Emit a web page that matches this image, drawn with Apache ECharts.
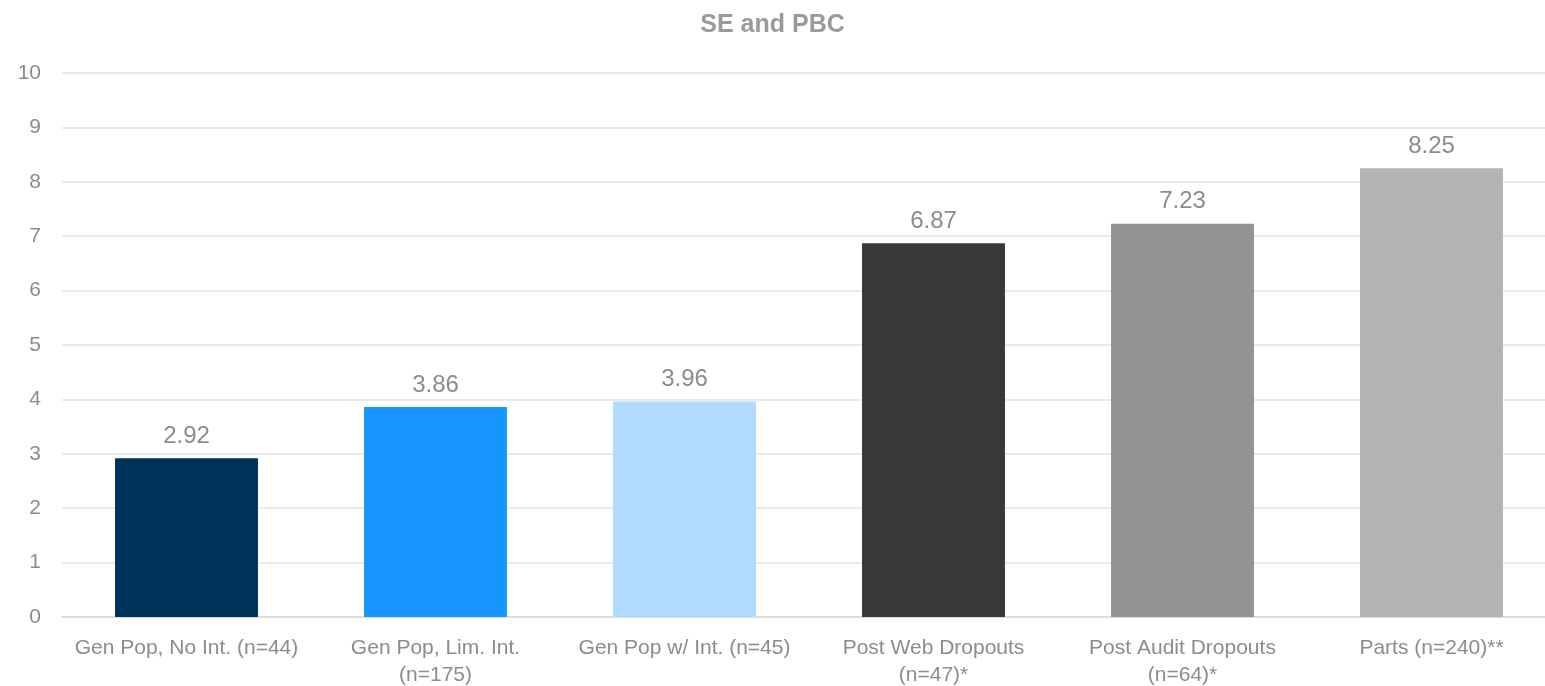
<!DOCTYPE html>
<html>
<head>
<meta charset="utf-8">
<script src="https://cdn.jsdelivr.net/npm/echarts@6/dist/echarts.min.js"></script>
<style>
  html, body { margin: 0; padding: 0; background: #fff; overflow: hidden; }
  #chart { width: 1545px; height: 686px; }
</style>
</head>
<body>
<div id="chart"></div>
<script>
// Group labels along the x axis
const categories = [
  'Gen Pop, No Int. (n=44)',
  'Gen Pop, Lim. Int.\n(n=175)',
  'Gen Pop w/ Int. (n=45)',
  'Post Web Dropouts\n(n=47)*',
  'Post Audit Dropouts\n(n=64)*',
  'Parts (n=240)**'
];
// Mean score per group
const values = [2.92, 3.86, 3.96, 6.87, 7.23, 8.25];
// Fill colour per group
const barColors = ['#003359', '#1896FF', '#B0DBFF', '#383838', '#939393', '#B3B3B3'];

const textGray = '#8c8c8c';
const fontFamily = '"Liberation Sans", "Noto Sans", sans-serif';

const chart = echarts.init(document.getElementById('chart'));
chart.setOption({
  animation: false,
  textStyle: { fontFamily: fontFamily },
  title: {
    text: 'SE and PBC',
    left: 'center',
    top: 8,
    textStyle: { color: '#9a9a9a', fontSize: 25, fontWeight: 'bold', fontFamily: fontFamily }
  },
  // plot area runs slightly past the right edge, so gridlines bleed off the canvas
  grid: { left: 62, right: -11, top: 73, bottom: 69, containLabel: false, outerBoundsMode: 'none' },
  xAxis: {
    type: 'category',
    data: categories,
    axisLine: { show: true, lineStyle: { color: '#d9d9d9', width: 1.5 } },
    axisTick: { show: false },
    axisLabel: { color: textGray, fontSize: 21, margin: 18, lineHeight: 27, interval: 0, fontFamily: fontFamily }
  },
  yAxis: {
    type: 'value',
    min: 0,
    max: 10,
    interval: 1,
    axisLine: { show: false },
    axisTick: { show: false },
    axisLabel: { color: textGray, fontSize: 21, margin: 21, fontFamily: fontFamily },
    splitLine: { lineStyle: { color: '#e3e3e3', width: 1.5 } }
  },
  series: [{
    type: 'bar',
    barWidth: '57.4%',
    data: values.map((v, i) => ({ value: v, itemStyle: { color: barColors[i] } })),
    label: {
      show: true,
      position: 'top',
      distance: 10,
      color: textGray,
      fontSize: 24,
      fontFamily: fontFamily,
      formatter: p => p.value.toFixed(2)
    }
  }]
});
</script>
</body>
</html>
